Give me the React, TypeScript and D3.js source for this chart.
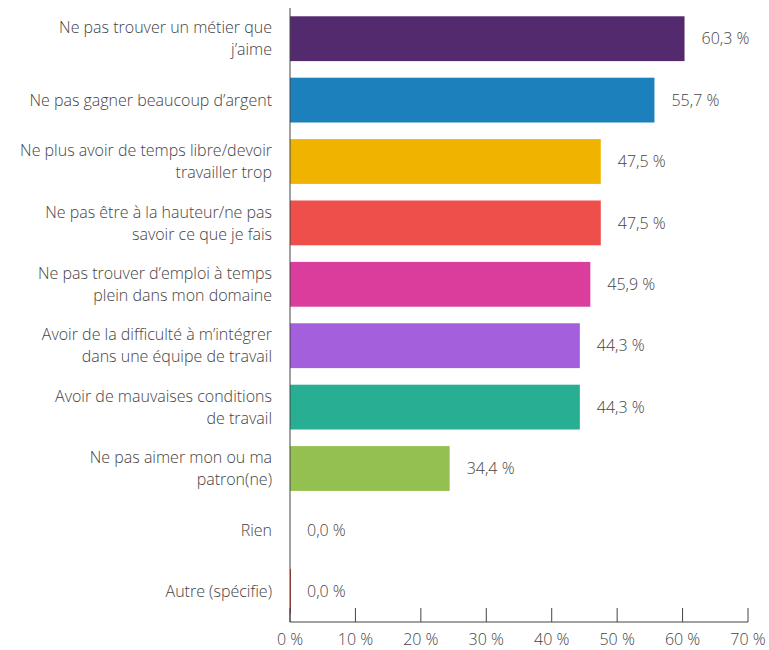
import React from "react";
import * as d3 from "d3";

const categories = [
  ["Ne pas trouver un métier que", "j’aime"],
  ["Ne pas gagner beaucoup d’argent"],
  ["Ne plus avoir de temps libre/devoir", "travailler trop"],
  ["Ne pas être à la hauteur/ne pas", "savoir ce que je fais"],
  ["Ne pas trouver d’emploi à temps", "plein dans mon domaine"],
  ["Avoir de la difficulté à m’intégrer", "dans une équipe de travail"],
  ["Avoir de mauvaises conditions", "de travail"],
  ["Ne pas aimer mon ou ma", "patron(ne)"],
  ["Rien"],
  ["Autre (spécifie)"],
];
// bar lengths as drawn in the reference
const values = [60.3, 55.7, 47.5, 47.5, 45.9, 44.3, 44.3, 24.4, 0, 0];
// value labels as printed in the reference
const valueLabels = ["60,3 %", "55,7 %", "47,5 %", "47,5 %", "45,9 %", "44,3 %", "44,3 %", "34,4 %", "0,0 %", "0,0 %"];
const colors = ["#532a6e", "#1b80bc", "#f0b400", "#ef4f4a", "#da3d9c", "#a45fdd", "#27ae93", "#94c052", "#94c052", "#c0392b"];
const ticks = [0, 10, 20, 30, 40, 50, 60, 70];

const W = 769, H = 650;
const left = 290, right = 748, top = 8, bottom = 622;
const font = "'Open Sans', Lato, sans-serif";
const fs = 16;

export default function App() {
  const x = d3.scaleLinear().domain([0, 70]).range([left, right]);
  const y = d3.scaleBand<number>().domain(d3.range(values.length)).range([top, bottom]).paddingInner(0.27).paddingOuter(0.135);
  return (
    <svg width={W} height={H} style={{ position: "absolute", left: 0, top: 0, background: "#fff" }}>
      {values.map((v, i) => {
        const yy = y(i)!;
        const bw = y.bandwidth();
        const cy = yy + bw / 2;
        const lines = categories[i];
        return (
          <g key={i}>
            <rect x={x(0)} y={yy} width={Math.max(x(v) - x(0), i === 9 ? 1 : 0)} height={bw} fill={colors[i]} />
            <text x={x(v) + 17} y={cy} dy="0.35em" fontSize={fs} fontWeight={300} fill="#444" fontFamily={font}>{valueLabels[i]}</text>
            {lines.map((t, j) => (
              <text key={j} x={272} y={cy + (j - (lines.length - 1) / 2) * 22} dy="0.35em" textAnchor="end" fontSize={fs} fontWeight={300} fill="#444" fontFamily={font}>{t}</text>
            ))}
          </g>
        );
      })}
      <line x1={left} x2={left} y1={top} y2={bottom} stroke="#444" strokeWidth={1} />
      <line x1={left} x2={right} y1={bottom} y2={bottom} stroke="#444" strokeWidth={1} />
      {ticks.map((t) => (
        <g key={t}>
          <line x1={x(t)} x2={x(t)} y1={bottom - 14} y2={bottom} stroke="#444" strokeWidth={1} />
          <text x={x(t)} y={645} textAnchor="middle" fontSize={fs} fontWeight={300} fill="#444" fontFamily={font}>{t} %</text>
        </g>
      ))}
    </svg>
  );
}
